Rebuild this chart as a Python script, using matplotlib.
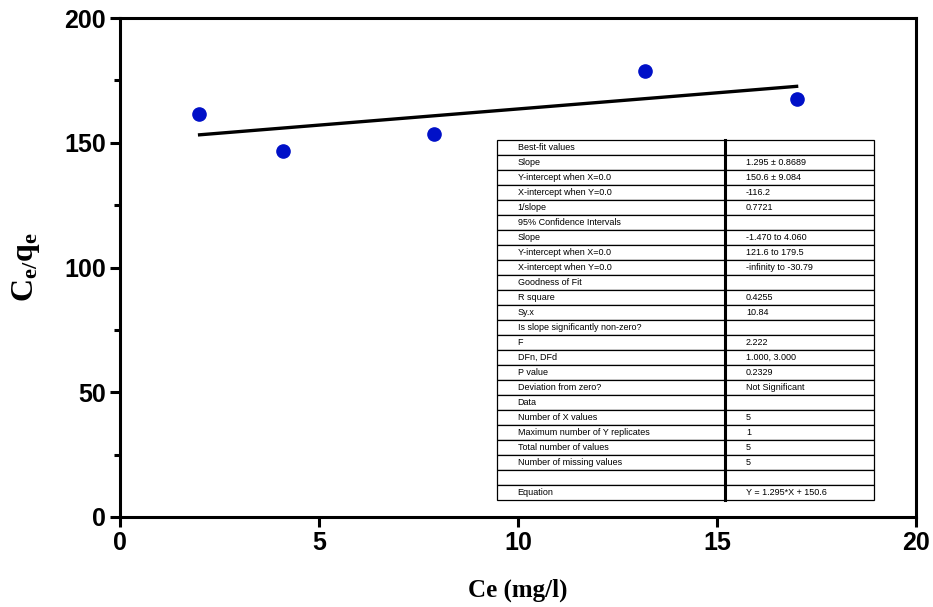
import matplotlib.pyplot as plt
from matplotlib.ticker import MultipleLocator

plt.rcParams['mathtext.fontset'] = 'custom'
plt.rcParams['mathtext.bf'] = 'Liberation Serif:bold'
plt.rcParams['mathtext.rm'] = 'Liberation Serif'
plt.rcParams['mathtext.it'] = 'Liberation Serif:italic'

# data
ce = [1.98, 4.1, 7.9, 13.2, 17.0]
ce_qe = [161.5, 146.8, 153.6, 178.8, 167.6]
slope = 1.295
intercept = 150.6
fit_x = [2.0, 17.0]

row_names = ["Best-fit values", "Slope", "Y-intercept when X=0.0", "X-intercept when Y=0.0",
             "1/slope", "95% Confidence Intervals", "Slope", "Y-intercept when X=0.0",
             "X-intercept when Y=0.0", "Goodness of Fit", "R square", "Sy.x",
             "Is slope significantly non-zero?", "F", "DFn, DFd", "P value",
             "Deviation from zero?", "Data", "Number of X values",
             "Maximum number of Y replicates", "Total number of values",
             "Number of missing values", "", "Equation"]
row_values = ["", "1.295 \u00b1 0.8689", "150.6 \u00b1 9.084", "-116.2", "0.7721", "",
              "-1.470 to 4.060", "121.6 to 179.5", "-infinity to -30.79", "", "0.4255",
              "10.84", "", "2.222", "1.000, 3.000", "0.2329", "Not Significant", "",
              "5", "1", "5", "5", "", "Y = 1.295*X + 150.6"]

fig = plt.figure(figsize=(9.33, 6.07), dpi=100)
ax = fig.add_axes([0.1286, 0.1483, 0.8532, 0.822])

ax.plot(ce, ce_qe, 'o', color='#0010c8', markersize=9.5, zorder=3)
ax.plot(fit_x, [slope * v + intercept for v in fit_x], '-', color='black', lw=2.4)

ax.set_xlim(0, 20)
ax.set_ylim(0, 200)
ax.xaxis.set_major_locator(MultipleLocator(5))
ax.yaxis.set_major_locator(MultipleLocator(50))
ax.yaxis.set_minor_locator(MultipleLocator(25))
for s in ax.spines.values():
    s.set_linewidth(2.2)
ax.tick_params(which='major', direction='out', length=7, width=2.2,
               labelsize=18, pad=3)
ax.tick_params(axis='y', which='minor', direction='out', length=4, width=2.2)
ax.tick_params(top=False, right=False)
for lab in ax.get_xticklabels() + ax.get_yticklabels():
    lab.set_fontweight('bold')
    lab.set_family('Liberation Sans')

ax.set_xlabel('Ce (mg/l)', family='Liberation Serif', fontweight='bold',
              fontsize=18, labelpad=17)
ax.set_ylabel(r'$\mathbf{C_{e/}q_{e}}$', fontsize=23, labelpad=16)

cells = [[n, v] for n, v in zip(row_names, row_values)]
tab = ax.table(cellText=cells, colWidths=[0.605, 0.395], cellLoc='left',
               bbox=[0.4736, 0.034, 0.4736, 0.7214])
tab.auto_set_font_size(False)
tab.set_fontsize(6.5)
for (r, c), cell in tab.get_celld().items():
    cell.set_linewidth(0.9)
    cell.PAD = 0.09 if c == 0 else 0.14
    cell.get_text().set_family('Liberation Sans')
# thick divider between the two columns
xm = 0.4736 + 0.4736 * 0.605
ax.plot([xm, xm], [0.034, 0.034 + 0.7214], transform=ax.transAxes,
        color='black', lw=2.2, zorder=5, clip_on=False)

fig.savefig('out.png', dpi=100)
